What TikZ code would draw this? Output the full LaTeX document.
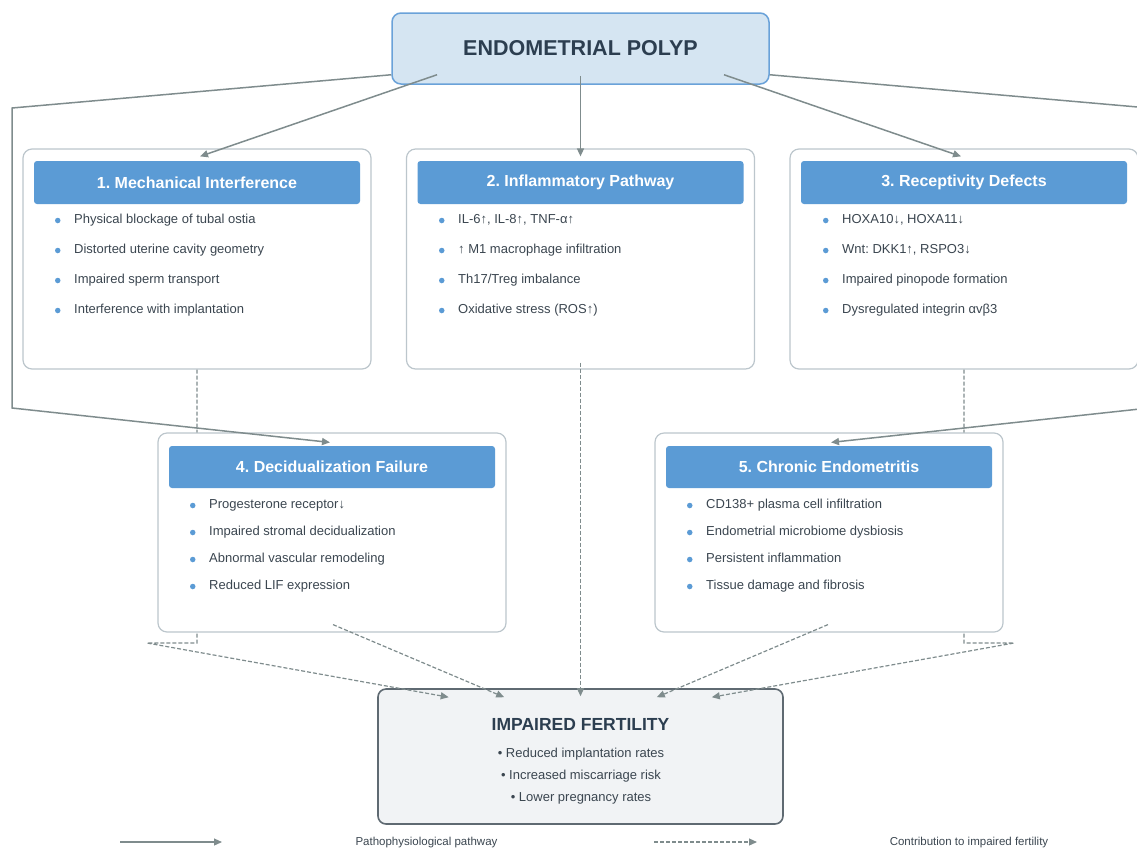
\documentclass[tikz,border=0pt]{standalone}
\usepackage{fontspec}
\setmainfont{Liberation Sans}
\usepackage{tikz}
\usetikzlibrary{arrows.meta}
\frenchspacing

\definecolor{polypfill}{HTML}{D5E5F2}
\definecolor{polypline}{HTML}{6AA2D9}
\definecolor{headblue}{HTML}{5B9BD5}
\definecolor{boxline}{HTML}{BCC6CC}
\definecolor{darktext}{HTML}{2C3E50}
\definecolor{bodytext}{HTML}{3B4650}
\definecolor{linkgray}{HTML}{7F8C8D}
\definecolor{outfill}{HTML}{F1F3F5}
\definecolor{outline}{HTML}{5F6A72}

\tikzset{
    panel/.style={draw=boxline, line width=1.2pt, fill=white, rounded corners=9pt,
        minimum width=348pt},
    header/.style={fill=headblue, rounded corners=3pt, minimum width=326pt, minimum height=43pt,
        text=white, font=\fontsize{16}{19}\selectfont\bfseries},
    item/.style={anchor=west, inner sep=0pt, text height=9.5pt, text depth=2.8pt, text=bodytext,
        font=\fontsize{13}{15}\selectfont,
        label={[circle, fill=headblue, inner sep=0pt, minimum size=5.5pt, label distance=13.3pt]west:{}}},
    outitem/.style={inner sep=0pt, text=bodytext, font=\fontsize{13}{15}\selectfont},
    pathway/.style={draw=linkgray, line width=1.5pt, -{Triangle[length=8pt,width=7pt]}},
    contrib/.style={pathway, line width=1.2pt, dash pattern=on 4pt off 2pt}
}

\begin{document}
\begin{tikzpicture}[x=1pt, y=-1pt]
    \useasboundingbox (0,0) rectangle (1137,847);

    % draw polyp box
    \node[draw=polypline, fill=polypfill, line width=1.5pt, rounded corners=9pt,
        minimum width=377pt, minimum height=71pt, text=darktext,
        font=\fontsize{21.5}{25}\selectfont\bfseries] (polyp) at (580.5,48.5) {ENDOMETRIAL POLYP};

    % draw first row of panels
    \node[panel, minimum height=220pt] (mech) at (197,259) {};
    \node[header] (mech-h) at (197,182.5) {1. Mechanical Interference};
    \node[item] (m1) at (74,220.5) {Physical blockage of tubal ostia};
    \node[item] (m2) at (74,250.5) {Distorted uterine cavity geometry};
    \node[item] (m3) at (74,280.5) {Impaired sperm transport};
    \node[item] (m4) at (74,310.5) {Interference with implantation};

    \node[panel, minimum height=220pt] (infl) at (580.5,259) {};
    \node[header] (infl-h) at (580.5,182.5) {2. Inflammatory Pathway};
    \node[item] (i1) at (458,220.5) {IL-6↑, IL-8↑, TNF-α↑};
    \node[item] (i2) at (458,250.5) {↑ M1 macrophage infiltration};
    \node[item] (i3) at (458,280.5) {Th17/Treg imbalance};
    \node[item] (i4) at (458,310.5) {Oxidative stress (ROS↑)};

    \node[panel, minimum height=220pt] (recep) at (964,259) {};
    \node[header] (recep-h) at (964,182.5) {3. Receptivity Defects};
    \node[item] (r1) at (842,220.5) {HOXA10↓, HOXA11↓};
    \node[item] (r2) at (842,250.5) {Wnt: DKK1↑, RSPO3↓};
    \node[item] (r3) at (842,280.5) {Impaired pinopode formation};
    \node[item] (r4) at (842,310.5) {Dysregulated integrin αvβ3};

    % draw outcome box
    \node[draw=outline, fill=outfill, line width=1.6pt, rounded corners=8pt,
        minimum width=405pt, minimum height=135pt] (fert) at (580.5,756.5) {};
    \node[text=darktext, font=\fontsize{17.5}{20}\selectfont\bfseries] (f0) at (580.5,724) {IMPAIRED FERTILITY};
    \node[outitem] (f1) at (581,754) {• Reduced implantation rates};
    \node[outitem] (f2) at (581,776) {• Increased miscarriage risk};
    \node[outitem] (f3) at (581,798) {• Lower pregnancy rates};

    % draw dashed contributions running behind the second row
    \draw[contrib] (mech.south) -- (197,643) -- (147,643) -- ([xshift=71.5pt, yshift=-9pt]fert.north west);
    \draw[contrib] (recep.south) -- (964,643) -- (1014,643) -- ([xshift=-72pt, yshift=-9pt]fert.north east);

    % draw second row of panels
    \node[panel, minimum height=199pt] (decid) at (332,532.5) {};
    \node[header, minimum height=42pt] (decid-h) at (332,467) {4. Decidualization Failure};
    \node[item] (d1) at (209,505.5) {Progesterone receptor↓};
    \node[item] (d2) at (209,532.5) {Impaired stromal decidualization};
    \node[item] (d3) at (209,559.5) {Abnormal vascular remodeling};
    \node[item] (d4) at (209,586.5) {Reduced LIF expression};

    \node[panel, minimum height=199pt] (chron) at (829,532.5) {};
    \node[header, minimum height=42pt] (chron-h) at (829,467) {5. Chronic Endometritis};
    \node[item] (c1) at (706,505.5) {CD138+ plasma cell infiltration};
    \node[item] (c2) at (706,532.5) {Endometrial microbiome dysbiosis};
    \node[item] (c3) at (706,559.5) {Persistent inflammation};
    \node[item] (c4) at (706,586.5) {Tissue damage and fibrosis};

    % draw pathways from the polyp
    \draw[pathway] ([xshift=-143.5pt, yshift=10pt]polyp.south) -- ([xshift=3pt, yshift=-8pt]mech.north);
    \draw[pathway] ([yshift=9pt]polyp.south) -- ([yshift=-8pt]infl.north);
    \draw[pathway] ([xshift=143.5pt, yshift=10pt]polyp.south) -- ([xshift=-3pt, yshift=-8pt]recep.north);
    \draw[pathway] ([yshift=10pt]polyp.south west) -- (12,108) -- (12,408) -- ([xshift=-2pt, yshift=-10pt]decid.north);
    \draw[pathway] ([yshift=10pt]polyp.south east) -- (1149,108) -- (1149,408) -- ([xshift=2pt, yshift=-10pt]chron.north);

    % draw contributions to the outcome
    \draw[contrib] ([xshift=1pt, yshift=8pt]decid.south) -- ([xshift=127pt, yshift=-9pt]fert.north west);
    \draw[contrib] ([yshift=7pt]infl.south) -- ([yshift=-8pt]fert.north);
    \draw[contrib] ([xshift=-1pt, yshift=8pt]chron.south) -- ([xshift=-127pt, yshift=-9pt]fert.north east);

    % draw legend
    \coordinate (leg-a) at (120,842);
    \coordinate (leg-b) at (222,842);
    \coordinate (leg-c) at (654,842);
    \coordinate (leg-d) at (757,842);
    \draw[pathway, line width=1.2pt] (leg-a) -- (leg-b);
    \draw[contrib] (leg-c) -- (leg-d);
    \node[outitem, font=\fontsize{11.5}{13}\selectfont] (leg1) at (426.5,843) {Pathophysiological pathway};
    \node[outitem, font=\fontsize{11.5}{13}\selectfont] (leg2) at (969,843) {Contribution to impaired fertility};
\end{tikzpicture}
\end{document}
